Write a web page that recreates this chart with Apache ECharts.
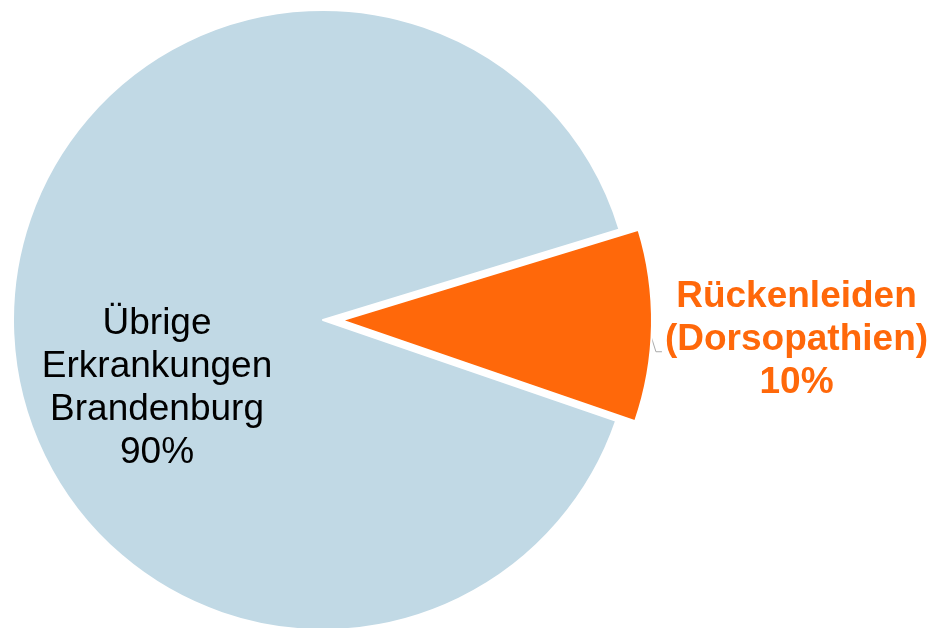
<!DOCTYPE html>
<html>
<head>
<meta charset="utf-8">
<script src="https://cdn.jsdelivr.net/npm/echarts@6/dist/echarts.min.js"></script>
<style>
  html, body { margin: 0; padding: 0; background: #ffffff; }
  #chart { width: 934px; height: 628px; }
</style>
</head>
<body>
<div id="chart"></div>
<script>
// Anteil der Rückenleiden an allen Erkrankungen in Brandenburg
var categories = ['Rückenleiden\n(Dorsopathien)', 'Übrige\nErkrankungen\nBrandenburg'];
var shares = [10, 90];
var sliceColors = ['#ff680a', '#c1d9e5'];

var chart = echarts.init(document.getElementById('chart'), null, { renderer: 'canvas' });

function labelLines(prefix) {
  return function (p) {
    return p.name.split('\n').concat([p.value + '%']).map(function (l) {
      return '{' + prefix + '|' + l + '}';
    }).join('\n');
  };
}

var pieData = categories.map(function (name, i) {
  var item = {
    name: name,
    value: shares[i],
    itemStyle: { color: sliceColors[i] }
  };
  if (i === 0) {
    item.selected = true;
    item.label = {
      position: 'outside',
      formatter: labelLines('o'),
      rich: {
        o: {
          align: 'center',
          color: sliceColors[0],
          fontSize: 37,
          fontWeight: 'bold',
          lineHeight: 43,
          fontFamily: 'Liberation Sans, Arial, sans-serif'
        }
      }
    };
    item.labelLine = {
      show: true,
      length: 4,
      length2: 4,
      lineStyle: { color: '#aaaaaa', width: 1 }
    };
  } else {
    item.label = {
      position: 'inside',
      offset: [-8, 71],
      formatter: labelLines('b'),
      rich: {
        b: {
          align: 'center',
          color: '#000000',
          fontSize: 37,
          lineHeight: 43,
          fontFamily: 'Liberation Sans, Arial, sans-serif'
        }
      }
    };
    item.labelLine = { show: false };
  }
  return item;
});

chart.setOption({
  animation: false,
  backgroundColor: '#ffffff',
  series: [{
    type: 'pie',
    center: [323, 320],
    radius: 310,
    startAngle: 17,
    clockwise: true,
    selectedMode: 'single',
    selectedOffset: 19,
    avoidLabelOverlap: false,
    itemStyle: { borderColor: '#ffffff', borderWidth: 2 },
    emphasis: { disabled: true },
    labelLayout: function (params) {
      if (params.dataIndex !== 0) {
        return {};
      }
      var pts = params.labelLinePoints;
      if (!pts || pts.length < 3) {
        return { dy: 14 };
      }
      // short kinked leader running down to the middle line of the label
      var x0 = pts[0][0] - 2;
      var y0 = pts[0][1] + 7;
      var yk = pts[0][1] + 26;
      return {
        dy: 14,
        labelLinePoints: [[x0, y0], [x0 + 6, yk], [x0 + 12, yk]]
      };
    },
    data: pieData
  }]
});
</script>
</body>
</html>
